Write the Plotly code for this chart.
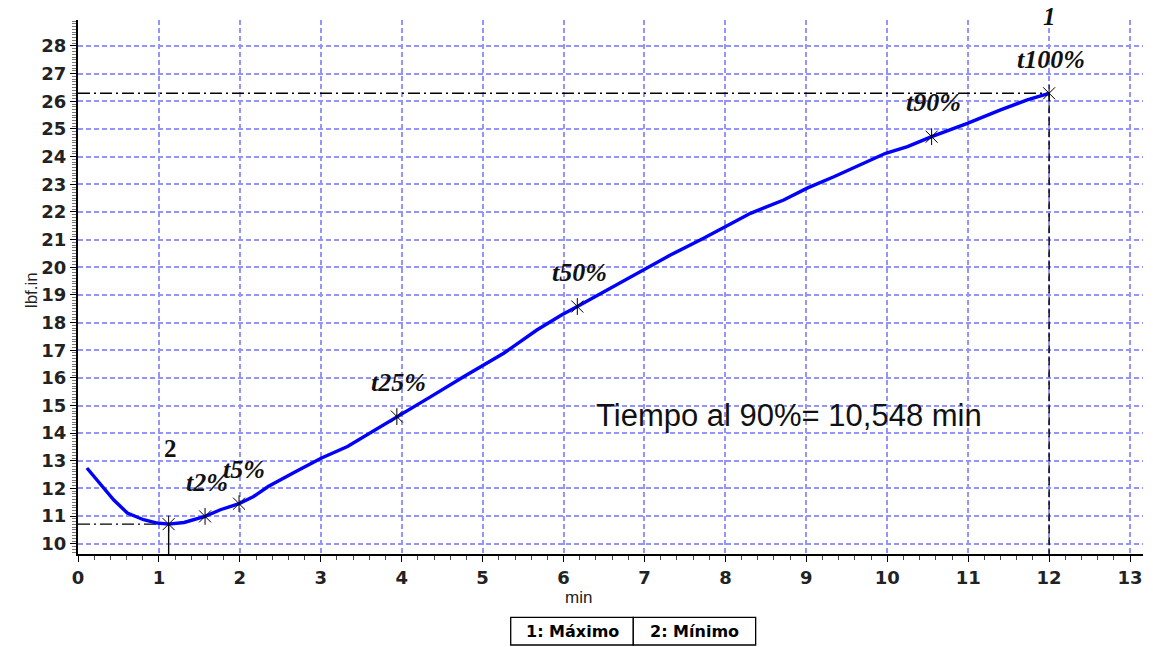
import plotly.graph_objects as go

# Cure curve: torque (lbf.in) vs time (min)
time_min = [0.11, 0.28, 0.44, 0.61, 0.81, 0.98, 1.12, 1.31, 1.57, 1.76, 1.99, 2.17,
            2.35, 2.71, 3.01, 3.33, 3.61, 3.94, 4.36, 4.77, 4.98, 5.26, 5.67, 5.98,
            6.17, 6.50, 6.91, 7.32, 7.73, 8.00, 8.31, 8.72, 9.01, 9.34, 9.67, 9.98,
            10.25, 10.548, 10.99, 11.40, 11.73, 12.00]
torque = [12.74, 12.13, 11.59, 11.11, 10.87, 10.75, 10.71, 10.77, 10.99, 11.23, 11.45, 11.71,
          12.07, 12.64, 13.10, 13.52, 14.00, 14.60, 15.32, 16.05, 16.41, 16.89, 17.73, 18.28,
          18.58, 19.12, 19.78, 20.44, 21.05, 21.47, 21.95, 22.43, 22.86, 23.27, 23.70, 24.12,
          24.36, 24.72, 25.20, 25.69, 26.05, 26.29]

# Characteristic points
point_labels = ["t2%", "t5%", "t25%", "t50%", "t90%", "t100%"]
point_time = [1.57, 1.99, 3.94, 6.17, 10.548, 12.00]
point_torque = [10.99, 11.45, 14.60, 18.58, 24.72, 26.29]

# Minimum (2) and maximum (1)
min_time, min_torque = 1.12, 10.71
max_time, max_torque = 12.00, 26.29
t90_text = "Tiempo al 90%= 10,548 min"

x_ticks = list(range(0, 14))
y_ticks = list(range(10, 29))

Y_LOW, Y_HIGH = 9.63, 28.94
X_LOW, X_HIGH = 0, 13.16

fig = go.Figure()

# Reference lines to the maximum
fig.add_trace(go.Scatter(x=[X_LOW, max_time], y=[max_torque, max_torque], mode="lines",
                         line=dict(color="black", width=1.4, dash="12px,4px,2px,4px"),
                         hoverinfo="skip", showlegend=False))
fig.add_trace(go.Scatter(x=[max_time, max_time], y=[max_torque, Y_LOW], mode="lines",
                         line=dict(color="black", width=1.4, dash="8px,4px"),
                         hoverinfo="skip", showlegend=False))
# Reference lines to the minimum
fig.add_trace(go.Scatter(x=[X_LOW, min_time], y=[min_torque, min_torque], mode="lines",
                         line=dict(color="black", width=1.4, dash="12px,4px,2px,4px"),
                         hoverinfo="skip", showlegend=False))
fig.add_trace(go.Scatter(x=[min_time, min_time], y=[min_torque, Y_LOW], mode="lines",
                         line=dict(color="black", width=1.4),
                         hoverinfo="skip", showlegend=False))

# Torque curve
fig.add_trace(go.Scatter(x=time_min, y=torque, mode="lines",
                         line=dict(color="#0000ff", width=3.4),
                         showlegend=False))

# Star markers (x plus vertical stroke)
mark_x = point_time + [min_time]
mark_y = point_torque + [min_torque]
for sym in ["x-thin-open", "line-ns-open"]:
    fig.add_trace(go.Scatter(x=mark_x, y=mark_y, mode="markers",
                             marker=dict(symbol=sym, size=12, color="black",
                                         line=dict(color="black", width=1)),
                             hoverinfo="skip", showlegend=False))

label_font = dict(family="Liberation Serif", size=26, color="#111111",
                  weight="bold", style="italic")
for lab, xv, yv in zip(point_labels, point_time, point_torque):
    dx = 5 if lab == "t5%" else 2
    fig.add_annotation(x=xv, y=yv, text=lab, showarrow=False, yshift=34, xshift=dx,
                       font=label_font)

fig.add_annotation(x=min_time, y=min_torque, text="2", showarrow=False, yshift=76, xshift=2,
                   font=dict(family="Liberation Serif", size=25, color="#111111", weight="bold"))
fig.add_annotation(x=max_time, y=max_torque, text="1", showarrow=False, yshift=77,
                   font=dict(family="Liberation Serif", size=25, color="#111111",
                             weight="bold", style="italic"))

fig.add_annotation(x=8.78, y=14.63, text=t90_text, showarrow=False,
                   font=dict(family="Liberation Sans", size=31, color="#111111"))

# Axis titles
fig.add_annotation(xref="paper", yref="paper", x=0.4695, y=-0.082, text="min",
                   showarrow=False, yanchor="middle",
                   font=dict(family="Liberation Sans", size=17, color="#222"))
fig.add_annotation(xref="paper", yref="paper", x=-0.0545, y=0.495, text="lbf.in",
                   textangle=-90, showarrow=False,
                   font=dict(family="Liberation Sans", size=17, color="#222"))

# Legend boxes below the plot
box_y0, box_y1 = -0.1704, -0.1185
for x0, x1, txt in [(0.4063, 0.5214, "1: Máximo"), (0.5214, 0.6363, "2: Mínimo")]:
    fig.add_shape(type="rect", xref="paper", yref="paper", x0=x0, x1=x1, y0=box_y0, y1=box_y1,
                  line=dict(color="black", width=1.3), fillcolor="white")
    fig.add_annotation(xref="paper", yref="paper", x=(x0 + x1) / 2, y=(box_y0 + box_y1) / 2,
                       xanchor="center", yanchor="middle", text=txt, showarrow=False,
                       font=dict(family="DejaVu Sans", size=16, color="black", weight="bold"))

grid_col = "#9494ff"
axis_common = dict(showgrid=True, gridcolor=grid_col, griddash="5px,3px", gridwidth=2,
                   showline=True, linecolor="black", linewidth=2,
                   ticks="outside", ticklen=6, tickcolor="black", tickwidth=1,
                   tickfont=dict(family="DejaVu Sans", size=18, color="#222", weight="bold"),
                   zeroline=False, mirror=False)
fig.update_xaxes(range=[X_LOW, X_HIGH], tickvals=x_ticks, ticktext=[str(v) for v in x_ticks],
                 minor=dict(dtick=0.2, tick0=0, ticks="outside", ticklen=4,
                            tickcolor="#444", showgrid=False),
                 **axis_common)
fig.update_yaxes(range=[Y_LOW, Y_HIGH], tickvals=y_ticks, ticktext=[str(v) for v in y_ticks],
                 minor=dict(dtick=0.1, tick0=0, ticks="outside", ticklen=4,
                            tickcolor="#777", showgrid=False),
                 **axis_common)

fig.update_layout(width=1153, height=647, autosize=False,
                  margin=dict(l=78, r=10, t=20, b=93),
                  plot_bgcolor="white", paper_bgcolor="white",
                  showlegend=False)

fig.write_html("out.html")
